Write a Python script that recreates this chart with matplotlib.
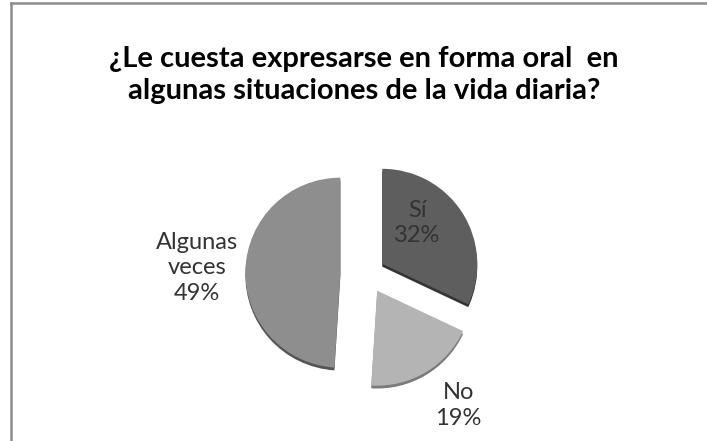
import matplotlib.pyplot as plt
from matplotlib.lines import Line2D

# data
categories = ["Sí", "No", "Algunas\nveces"]
percents = [32, 19, 49]

# style
colors = ["#5e5e5e", "#b4b4b4", "#8e8e8e"]
edge_colors = ["#333333", "#7a7a7a", "#555555"]
explode = [0.19, 0.21, 0.28]
label_pos = [(0.53, 0.53), (0.96, -1.39), (-1.79, 0.06)]

W, H, DPI = 707, 441, 100
R_PX = 95.0
CX, CY = 367.0, 273.5

fig = plt.figure(figsize=(W / DPI, H / DPI), dpi=DPI)
ax = fig.add_axes([0, 0, 1, 1])

# depth shadow, then the pie itself
ax.pie(percents, explode=explode, startangle=90, counterclock=False,
       colors=edge_colors, center=(0, -0.03),
       wedgeprops=dict(linewidth=0))
ax.pie(percents, explode=explode, startangle=90, counterclock=False,
       colors=colors, wedgeprops=dict(linewidth=0))

for cat, pct, (lx, ly) in zip(categories, percents, label_pos):
    ax.text(lx, ly, f"{cat}\n{pct}%", ha="center", va="center",
            fontsize=17, family="Lato", color="#333333", linespacing=1.25)

ax.set_xlim(-CX / R_PX, (W - CX) / R_PX)
ax.set_ylim(-(H - CY) / R_PX, CY / R_PX)
ax.set_aspect("auto")
ax.axis("off")

fig.text(364 / W, 1 - 75 / H,
         "¿Le cuesta expresarse en forma oral  en\nalgunas situaciones de la vida diaria?",
         ha="center", va="center", fontsize=21, fontweight="bold",
         family="Lato", color="#000000", linespacing=1.25)

# chart frame (only left and top edges visible in the crop)
fig.add_artist(Line2D([11 / W, 11 / W], [0, 1 - 3 / H], transform=fig.transFigure,
                      color="#8c8c8c", linewidth=1.8))
fig.add_artist(Line2D([11 / W, 1], [1 - 3 / H, 1 - 3 / H], transform=fig.transFigure,
                      color="#8c8c8c", linewidth=1.8))

fig.savefig("out.png", dpi=DPI)
plt.close(fig)
